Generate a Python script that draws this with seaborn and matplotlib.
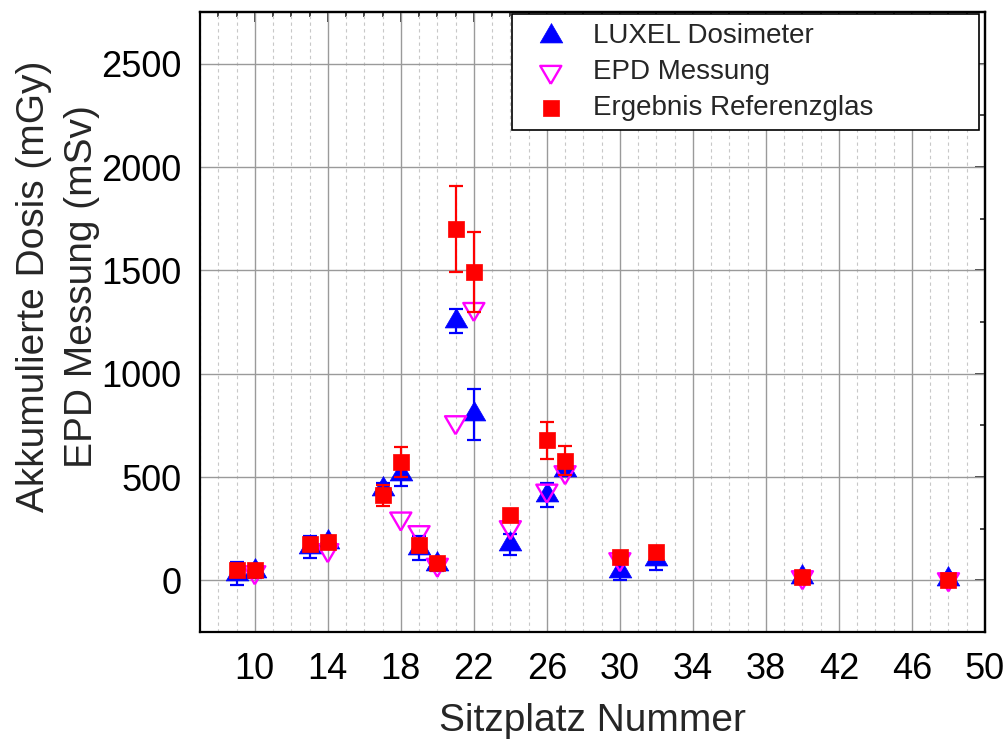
import numpy as np
import pandas as pd
import matplotlib
matplotlib.use("Agg")
import matplotlib.pyplot as plt
from matplotlib.ticker import MultipleLocator, FixedLocator
import seaborn as sns

# ---------------- data ----------------
seats_luxel = [9, 10, 13, 14, 17, 18, 19, 20, 21, 22, 24, 26, 27, 30, 32, 40, 48]
dose_luxel = [32, 43, 161, 185, 441, 514, 157, 77, 1255, 803, 175, 412, 533, 45, 101, 15, 5]
err_luxel = [55, 30, 52, 30, 30, 59, 57, 30, 57, 123, 51, 57, 30, 45, 53, 20, 20]

seats_epd = [10, 14, 18, 19, 20, 21, 22, 24, 26, 27, 30, 40, 48]
dose_epd = [39, 146, 299, 233, 75, 765, 1313, 257, 434, 523, 102, 15, 5]

seats_ref = [9, 10, 13, 14, 17, 18, 19, 20, 21, 22, 24, 26, 27, 30, 32, 40, 48]
dose_ref = [48, 52, 177, 185, 411, 572, 172, 84, 1700, 1493, 318, 677, 580, 113, 137, 16, 3]
err_ref = [0, 0, 0, 0, 50, 73, 0, 0, 208, 195, 0, 91, 71, 0, 0, 0, 0]

labels = ["LUXEL Dosimeter", "EPD Messung", "Ergebnis Referenzglas"]
x_label = "Sitzplatz Nummer"
y_label = "Akkumulierte Dosis (mGy)\nEPD Messung (mSv)"
x_ticks = [10, 14, 18, 22, 26, 30, 34, 38, 42, 46, 50]
y_ticks = [0, 500, 1000, 1500, 2000, 2500]

df_lux = pd.DataFrame({"seat": seats_luxel, "dose": dose_luxel, "err": err_luxel})
df_epd = pd.DataFrame({"seat": seats_epd, "dose": dose_epd})
df_ref = pd.DataFrame({"seat": seats_ref, "dose": dose_ref, "err": err_ref})

# ---------------- style ----------------
sns.set_theme(style="white")
plt.rcParams["font.family"] = ["Liberation Sans", "DejaVu Sans"]
plt.rcParams["axes.unicode_minus"] = False

fig = plt.figure(figsize=(10.06, 7.44), dpi=100)
ax = fig.add_axes([0.1988, 0.1505, 0.7803, 0.8333])

# triangle markers centred on their centroid (as in the original software)
tri_up = [(0, 1), (-0.875, -0.5), (0.875, -0.5), (0, 1)]
tri_dn = [(0, -1), (-0.875, 0.5), (0.875, 0.5), (0, -1)]

# LUXEL (blue filled triangles)
ax.errorbar(df_lux["seat"], df_lux["dose"], yerr=df_lux["err"], fmt="none",
            ecolor="#0000ff", elinewidth=1.6, capsize=4.7, capthick=1.6, zorder=3)
sns.scatterplot(data=df_lux, x="seat", y="dose", ax=ax, marker=tri_up, s=345,
                color="#0000ff", edgecolor="#0000ff", linewidth=0.5, zorder=3.1,
                label=labels[0])

# EPD (magenta open inverted triangles)
sns.scatterplot(data=df_epd, x="seat", y="dose", ax=ax, marker=tri_dn, s=300,
                facecolor="none", edgecolor="#ff00ff", color="#ff00ff",
                linewidth=1.7, zorder=4, label=labels[1])

# Reference glass (red squares)
ax.errorbar(df_ref["seat"], df_ref["dose"], yerr=df_ref["err"], fmt="none",
            ecolor="#ff0000", elinewidth=1.6, capsize=4.7, capthick=1.6, zorder=5)
sns.scatterplot(data=df_ref, x="seat", y="dose", ax=ax, marker="s", s=140,
                color="#ff0000", edgecolor="#ff0000", linewidth=0.5, zorder=5.1,
                label=labels[2])

# ---------------- axes ----------------
ax.set_xlim(7, 50)
ax.set_ylim(-250, 2750)
ax.xaxis.set_major_locator(FixedLocator(x_ticks))
ax.xaxis.set_minor_locator(MultipleLocator(1))
ax.yaxis.set_major_locator(FixedLocator(y_ticks))
ax.yaxis.set_minor_locator(MultipleLocator(250))

ax.grid(False)
ax.grid(which="major", axis="both", color="#9a9a9a", linewidth=1.0, zorder=0)
ax.grid(which="minor", axis="x", color="#c8c8c8", linewidth=0.8,
        linestyle=(0, (3, 3)), zorder=0)
ax.set_axisbelow(True)

for sp in ax.spines.values():
    sp.set_color("black")
    sp.set_linewidth(1.6)
    sp.set_visible(True)

ax.tick_params(which="major", direction="out", length=7.2, width=1.2,
               labelsize=26, colors="black", pad=6)
ax.tick_params(which="minor", direction="out", length=3.8, width=1.2, colors="black")
ax.tick_params(axis="x", pad=7)

secx = ax.secondary_xaxis("top")
secx.xaxis.set_major_locator(FixedLocator(x_ticks))
secx.xaxis.set_minor_locator(MultipleLocator(1))
secx.tick_params(which="major", direction="in", length=7.2, width=1.2, labeltop=False)
secx.tick_params(which="minor", direction="in", length=3.8, width=1.2)
secx.spines["top"].set_linewidth(1.6)

secy = ax.secondary_yaxis("right")
secy.yaxis.set_major_locator(FixedLocator(y_ticks))
secy.yaxis.set_minor_locator(MultipleLocator(250))
secy.tick_params(which="major", direction="in", length=7.2, width=1.2, labelright=False)
secy.tick_params(which="minor", direction="in", length=3.8, width=1.2)
secy.spines["right"].set_linewidth(1.6)

ax.set_xlabel(x_label, fontsize=28, labelpad=12)
ax.set_ylabel(y_label, fontsize=28, linespacing=1.42)
ax.yaxis.set_label_coords(-0.128, 0.558)

leg = ax.legend(loc="upper left", bbox_to_anchor=(0.3975, 0.5, 0.5949, 0.4968),
                mode="expand", borderaxespad=0, fontsize=20, frameon=True,
                fancybox=False, framealpha=1, edgecolor="black",
                labelspacing=0.36, handletextpad=0.45, borderpad=0.33,
                handlelength=2.13, markerscale=1.0)
leg.get_frame().set_linewidth(1.2)
leg.set_zorder(10)

fig.savefig("out.png", dpi=100)
